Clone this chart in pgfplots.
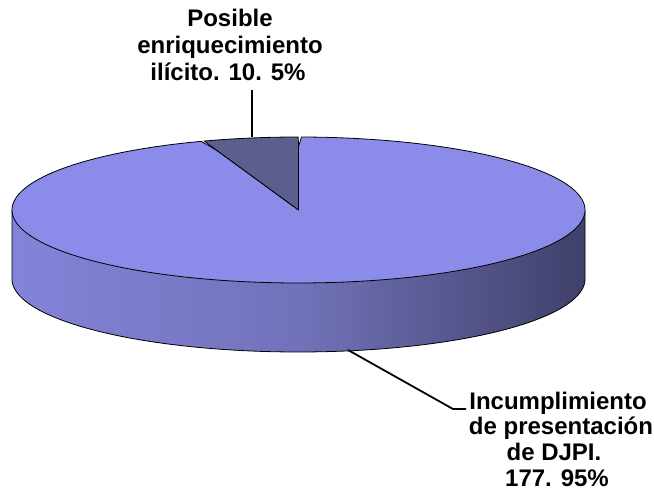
\documentclass[border=0pt]{standalone}
\usepackage{fontspec}
\setmainfont{Liberation Sans}
\usepackage{pgfplots}
\pgfplotsset{compat=1.18}
\definecolor{topcol}{RGB}{139,140,233}
\definecolor{smallcol}{RGB}{92,94,142}
\definecolor{sideA}{RGB}{138,138,230}
\definecolor{sideM}{RGB}{114,114,186}
\definecolor{sideB}{RGB}{60,60,100}
\pgfdeclarehorizontalshading{pieside}{100bp}{color(0bp)=(sideA); color(15bp)=(sideA); color(50bp)=(sideM); color(77bp)=(sideB); color(100bp)=(sideB)}
% data values
\pgfmathsetmacro\vA{10}   % Posible enriquecimiento ilicito
\pgfmathsetmacro\vB{177}  % Incumplimiento de presentacion de DJPI
\pgfmathsetmacro\thA{90+360*\vA/(\vA+\vB)}
\pgfmathsetmacro\thAm{\thA-2}
\pgfmathsetmacro\thAp{\thA+2}
\begin{document}
\begin{tikzpicture}
\begin{axis}[
  width=654pt, height=493pt, scale only axis,
  xmin=0, xmax=654, ymin=0, ymax=493,
  hide axis, clip=false,
]
% side of the cylinder
\addplot[draw=black, line width=0.8pt, shade, shading=pieside, domain=170:370, samples=201, variable=\t]
 ({298.5+286.5*cos(max(180,min(360,\t)))},
  {283+73*sin(max(180,min(360,\t)))-69*min(1,(\t-170)/10,(370-\t)/10)});
% big slice (177, 95%)
\addplot[fill=topcol, draw=black, line width=0.8pt, domain=\thAm:452, samples=400, variable=\t]
 ({298.5+min(1,(\t-\thAm)/2,(452-\t)/2)*286.5*cos(max(\thA,min(450,\t)))},
  {283+min(1,(\t-\thAm)/2,(452-\t)/2)*73*sin(max(\thA,min(450,\t)))});
% small slice (10, 5%)
\addplot[fill=smallcol, draw=black, line width=0.8pt, domain=88:\thAp, samples=80, variable=\t]
 ({298.5+min(1,(\t-88)/2,(\thAp-\t)/2)*286.5*cos(max(90,min(\thA,\t)))},
  {283+min(1,(\t-88)/2,(\thAp-\t)/2)*73*sin(max(90,min(\thA,\t)))});
% leader lines
\addplot[black, line width=2pt] coordinates {(252,403) (252,356)};
\addplot[black, line width=1.8pt] coordinates {(348,143) (453,84) (466,84)};
% labels
\begin{scope}[every node/.style={font=\fontsize{24}{27}\selectfont\bfseries, inner sep=0pt, anchor=base}]
\node at (axis cs:230,466) {Posible};
\node at (axis cs:230,439) {enriquecimiento};
\node at (axis cs:228,412) {ilícito. 10. 5\%};
\node at (axis cs:558,83) {Incumplimiento};
\node at (axis cs:561,58) {de presentación};
\node at (axis cs:554,32) {de DJPI.};
\node at (axis cs:557,6) {177. 95\%};
\end{scope}
\end{axis}
\pgfresetboundingbox
\useasboundingbox (0,0) rectangle (654pt,493pt);
\end{tikzpicture}
\end{document}
